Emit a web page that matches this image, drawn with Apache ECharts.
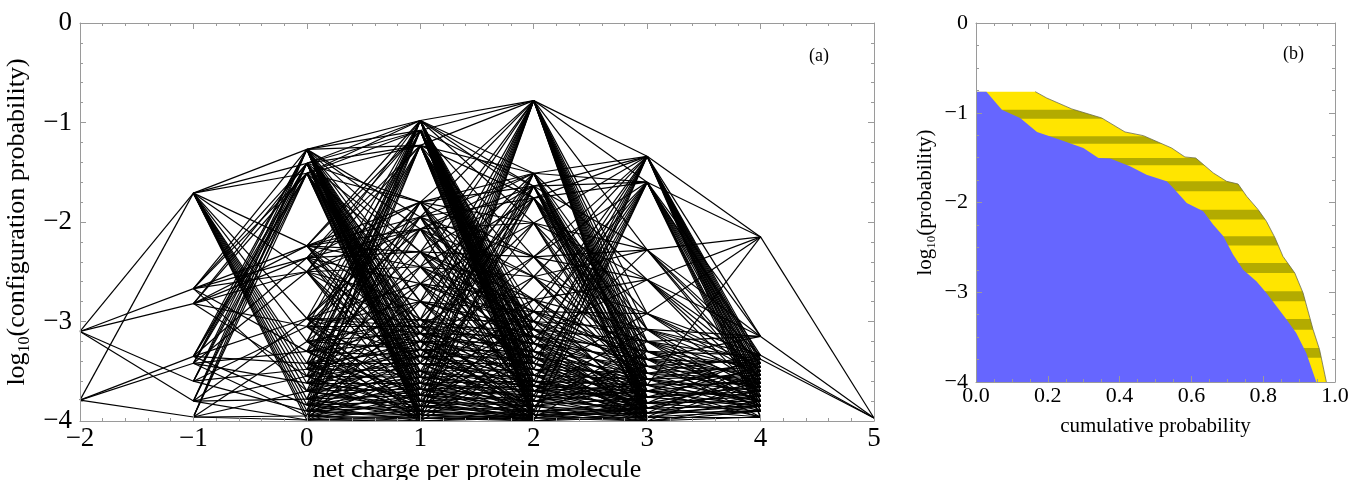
<!DOCTYPE html>
<html><head><meta charset="utf-8">
<script src="https://cdn.jsdelivr.net/npm/echarts@6/dist/echarts.min.js"></script>
<style>html,body{margin:0;padding:0;background:#fff}#c{width:1352px;height:480px}</style>
</head><body><div id="c"></div>
<script>
// ---------- Panel (a): configuration levels per net charge ----------
const charges = [-2, -1, 0, 1, 2, 3, 4, 5];
const levelsQm2 = [-3.10, -3.79];
const levelsQm1 = [-1.71, -2.67, -2.82, -3.35, -3.42, -3.60, -3.80, -3.96];
const levelsQ0 = [-1.27, -1.41, -1.51, -2.24, -2.36, -2.50, -2.97, -3.05, -3.20, -3.30, -3.42, -3.48, -3.55, -3.62, -3.70, -3.78, -3.84, -3.90, -3.95, -3.99];
const levelsQ1 = [-0.98, -1.08, -1.23, -1.80, -1.95, -2.07, -2.30, -2.45, -2.62, -2.80, -2.98, -3.05, -3.12, -3.20, -3.28, -3.35, -3.42, -3.50, -3.56, -3.62, -3.68, -3.74, -3.80, -3.85, -3.90, -3.94, -3.97, -4.00];
const levelsQ2 = [-0.78, -1.51, -1.64, -1.76, -2.01, -2.35, -2.55, -2.78, -2.90, -3.00, -3.08, -3.15, -3.22, -3.30, -3.36, -3.42, -3.48, -3.54, -3.60, -3.65, -3.70, -3.75, -3.80, -3.85, -3.90, -3.94, -3.97, -4.00];
const levelsQ3 = [-1.34, -1.60, -2.28, -2.58, -2.92, -3.08, -3.20, -3.30, -3.38, -3.45, -3.52, -3.58, -3.64, -3.70, -3.76, -3.82, -3.87, -3.92, -3.96, -4.00];
const levelsQ4 = [-2.15, -3.15, -3.34, -3.38, -3.42, -3.46, -3.50, -3.54, -3.58, -3.62, -3.66, -3.70, -3.75, -3.80, -3.85, -3.90, -3.96];
const levelsQ5 = [-3.97];

// transitions: for each configuration at charge q, indices of linked configurations at q+1
const linksQm2 = [[0,1,2,5,6],[0,3,4,7]];
const linksQm1 = [
  [0,1,2,3,5,6,8,10,11,12,13,14,15,16,17,18,19],
  [0,1,2,3,4,5,9,14],
  [1,2,3,4,5,7,12],
  [0,1,2,4,6,10,16],
  [0,1,2,5,9,13,18],
  [0,1,2,7,11,17],
  [0,1,2,6,12,15,19],
  [0,1,2,8,14,18,19]
];
const linksQ0 = [
  [0,1,2,4,5,6,8,9,10,11,12,13,14,15,16,17,18,19,20,21,22,23,24,25,26,27],
  [0,1,2,3,6,9,10,12,13,14,16,18,19,20,22,24,26,27],
  [0,1,2,3,7,11,12,13,15,17,19,21,23,25,27],
  [0,1,3,4,5,6,7,10,14,17,20],
  [1,2,3,5,6,8,11,16,19,22],
  [0,2,4,5,7,9,12,18,21,24],
  [0,3,4,8,10,11,12,15,20,25],
  [1,3,5,9,11,13,17,22,26],
  [0,2,6,10,12,14,19,23,27],
  [1,4,7,11,13,15,21,24],
  [0,2,8,12,14,16,20,23,26],
  [1,3,9,13,15,17,22,25],
  [0,5,10,14,16,18,24,27],
  [2,4,11,15,17,19,21,26],
  [1,6,12,16,18,20,23,24],
  [0,3,13,17,19,21,25,26],
  [2,7,14,18,20,22,24,27],
  [1,5,15,19,21,23,25,26],
  [0,8,16,20,22,24,26,27],
  [2,9,17,21,23,25,26,27]
];
const linksQ1 = [
  [0,1,2,3,4,9,10,11,12,13,14,15,16,17,18,19,20,21,22,23,24,25,26,27],
  [0,2,5,8,10,11,12,13,14,16,18,19,20,22,24,25,26],
  [0,1,3,6,10,11,13,15,17,19,21,23,25,27],
  [0,1,2,4,5,9,12,16,19,22],
  [0,1,3,5,6,10,12,20,24],
  [1,2,4,6,7,11,14,24,26],
  [0,2,5,7,8,10,15,18,22],
  [0,3,6,8,9,13,17,21],
  [1,4,7,9,10,15,19,25],
  [0,2,8,10,11,17,20,23],
  [0,3,9,11,12,14,19,26],
  [1,5,10,12,13,16,20,24],
  [0,4,11,13,14,18,22,27],
  [2,6,12,14,15,19,24,25],
  [0,3,13,15,16,20,23,27],
  [1,7,14,16,17,21,26],
  [0,5,15,17,18,23,25],
  [2,8,16,18,19,22,25,27],
  [0,4,17,19,20,24,26],
  [1,9,18,20,21,23,27],
  [0,6,19,21,22,24,26],
  [3,10,20,22,23,25,27],
  [0,7,21,23,24,26,27],
  [2,11,22,24,25,27],
  [0,8,23,25,26,27],
  [1,12,24,26,27],
  [0,13,25,26,27],
  [2,14,25,26,27]
];
const linksQ2 = [
  [0,1,2,4,5,6,7,8,9,10,11,12,13,14,15,16,17,18,19],
  [0,1,3,5,7,9,10,11,13,15,17,19],
  [0,1,2,6,8,10,12,14,16,18],
  [0,1,4,5,7,9,12,15,18],
  [0,2,3,6,11,14,16],
  [0,1,2,3,7,10,13],
  [0,2,4,8,12,14],
  [1,3,5,9,11,17],
  [0,4,6,8,10,15],
  [1,5,7,9,11,19],
  [0,6,8,10,12,16],
  [3,7,9,11,13,18],
  [1,8,10,12,14,17],
  [0,9,11,13,15,17],
  [2,10,12,14,16,19],
  [1,11,13,15,17,19],
  [0,12,14,16,18,10],
  [4,13,15,17,19,11],
  [1,14,16,18,15,12],
  [0,15,17,19,13,9],
  [5,16,18,14,12,10],
  [1,17,19,15,13],
  [0,18,16,13,11],
  [6,19,17,14,12],
  [1,18,15,19,16],
  [0,19,14,16,17],
  [7,16,19,18,15],
  [1,17,18,19,16]
];
const linksQ3 = [
  [0,1,3,4,5,6,7,8,9,10,11,12,13,14,15,16],
  [0,1,2,3,5,7,9,11,13,14,15,16],
  [0,1,2,4,8,10],
  [0,1,3,6,9,12],
  [0,2,5,7,10],
  [1,2,4,7,11,14],
  [1,3,6,9,12,15],
  [2,5,8,11,13],
  [1,4,7,10,13,16],
  [3,6,9,12,14],
  [2,5,8,10,14],
  [4,7,11,13,15],
  [0,6,9,13,16],
  [3,8,12,14,16],
  [5,10,11,14],
  [2,9,12,13,15],
  [7,11,14,16],
  [4,12,14,15],
  [6,13,15,16],
  [8,14,15,16]
];
const linksQ4 = [[0],[0],[0],[0]];

// ---------- Panel (b): cumulative probability boundaries ----------
const blueEdgeX = [0, 0.029, 0.072, 0.123, 0.170, 0.234, 0.299, 0.341, 0.374, 0.429, 0.475, 0.531, 0.545, 0.587, 0.633, 0.661, 0.689, 0.716, 0.744, 0.781, 0.809, 0.837, 0.865, 0.892, 0.920, 0.948];
const blueEdgeY = [-0.765, -0.765, -0.966, -1.058, -1.214, -1.300, -1.393, -1.504, -1.510, -1.597, -1.690, -1.764, -1.820, -2.006, -2.098, -2.247, -2.377, -2.580, -2.750, -2.878, -3.008, -3.157, -3.305, -3.454, -3.677, -4.0];
const yellowEdgeX = [0, 0.165, 0.197, 0.267, 0.350, 0.415, 0.466, 0.545, 0.582, 0.612, 0.661, 0.698, 0.730, 0.754, 0.786, 0.809, 0.833, 0.855, 0.888, 0.911, 0.939, 0.957, 0.976];
const yellowEdgeY = [-0.765, -0.765, -0.836, -0.958, -1.058, -1.214, -1.255, -1.393, -1.493, -1.504, -1.671, -1.764, -1.794, -1.931, -2.080, -2.210, -2.395, -2.600, -2.786, -3.008, -3.417, -3.640, -4.0];
const stripeTop = [-0.966, -1.263, -1.504, -1.764, -2.080, -2.377, -2.674, -2.990, -3.298, -3.620];
const stripeBottom = [-1.066, -1.345, -1.586, -1.876, -2.190, -2.480, -2.786, -3.100, -3.417, -3.730];

// ---------- build ----------
const FONT = '"Liberation Serif","DejaVu Serif",serif';
const columns = [levelsQm2, levelsQm1, levelsQ0, levelsQ1, levelsQ2, levelsQ3, levelsQ4, levelsQ5];
const links = [linksQm2, linksQm1, linksQ0, linksQ1, linksQ2, linksQ3, linksQ4];
const edgeData = [];
links.forEach((adj, g) => adj.forEach((targets, i) => targets.forEach(j => {
  edgeData.push({coords: [[charges[g], columns[g][i]], [charges[g + 1], columns[g + 1][j]]]});
})));

const minus = v => v < 0 ? '\u2212' + Math.abs(v) : String(v);
const minusFixed = v => v < 0 ? '\u2212' + Math.abs(v).toFixed(1) : v.toFixed(1);
const frameColor = '#9a9a9a';

function axisBase(extra) {
  return Object.assign({
    type: 'value', z: 10,
    axisLine: {show: true, onZero: false, lineStyle: {color: frameColor, width: 1}},
    axisTick: {show: true, inside: true, length: 6, lineStyle: {color: frameColor}},
    minorTick: {show: true, length: 3, lineStyle: {color: frameColor}},
    splitLine: {show: false},
    axisLabel: {show: false}
  }, extra);
}

const bigLabel = {fontFamily: FONT, fontSize: 27, color: '#000'};
const smallLabel = {fontFamily: FONT, fontSize: 22, color: '#000'};

const option = {
  animation: false,
  backgroundColor: '#fff',
  grid: [
    {left: 80, top: 23, width: 794, height: 398, containLabel: false, outerBoundsMode: 'none'},
    {left: 976, top: 23, width: 359, height: 359, containLabel: false, outerBoundsMode: 'none'}
  ],
  xAxis: [
    axisBase({gridIndex: 0, position: 'bottom', min: -2, max: 5, interval: 1,
      minorTick: {show: true, splitNumber: 5, length: 3, lineStyle: {color: frameColor}},
      axisLabel: Object.assign({show: true, margin: 4, formatter: minus}, bigLabel),
      name: 'net charge per protein molecule', nameLocation: 'middle', nameGap: 32,
      nameTextStyle: {fontFamily: FONT, fontSize: 26, color: '#000'}}),
    axisBase({gridIndex: 0, position: 'top', min: -2, max: 5, interval: 1,
      minorTick: {show: true, splitNumber: 5, length: 3, lineStyle: {color: frameColor}}}),
    axisBase({gridIndex: 1, position: 'bottom', min: 0, max: 1, interval: 0.2,
      minorTick: {show: true, splitNumber: 4, length: 3, lineStyle: {color: frameColor}},
      axisLabel: Object.assign({show: true, margin: 3, formatter: minusFixed}, smallLabel),
      name: 'cumulative probability', nameLocation: 'middle', nameGap: 34,
      nameTextStyle: {fontFamily: FONT, fontSize: 21, color: '#000'}}),
    axisBase({gridIndex: 1, position: 'top', min: 0, max: 1, interval: 0.2,
      minorTick: {show: true, splitNumber: 4, length: 3, lineStyle: {color: frameColor}}})
  ],
  yAxis: [
    axisBase({gridIndex: 0, position: 'left', min: -4, max: 0, interval: 1,
      minorTick: {show: true, splitNumber: 5, length: 3, lineStyle: {color: frameColor}},
      axisLabel: Object.assign({show: true, margin: 8, formatter: minus}, bigLabel),
      name: '{n|log}{s|10}{n|(configuration probability)}', nameLocation: 'middle', nameGap: 42,
      nameTextStyle: {fontFamily: FONT, fontSize: 26, color: '#000',
        rich: {n: {fontFamily: FONT, fontSize: 26, color: '#000', lineHeight: 30},
               s: {fontFamily: FONT, fontSize: 16, color: '#000', lineHeight: 30, verticalAlign: 'bottom', padding: [10, 0, 0, 0]}}}}),
    axisBase({gridIndex: 0, position: 'right', min: -4, max: 0, interval: 1,
      minorTick: {show: true, splitNumber: 5, length: 3, lineStyle: {color: frameColor}}}),
    axisBase({gridIndex: 1, position: 'left', min: -4, max: 0, interval: 1,
      minorTick: {show: true, splitNumber: 4, length: 3, lineStyle: {color: frameColor}},
      axisLabel: Object.assign({show: true, margin: 8, formatter: minus}, smallLabel),
      name: '{n|log}{s|10}{n|(probability)}', nameLocation: 'middle', nameGap: 38,
      nameTextStyle: {fontFamily: FONT, fontSize: 21, color: '#000',
        rich: {n: {fontFamily: FONT, fontSize: 21, color: '#000', lineHeight: 26},
               s: {fontFamily: FONT, fontSize: 13, color: '#000', lineHeight: 26, verticalAlign: 'bottom', padding: [8, 0, 0, 0]}}}}),
    axisBase({gridIndex: 1, position: 'right', min: -4, max: 0, interval: 1,
      minorTick: {show: true, splitNumber: 4, length: 3, lineStyle: {color: frameColor}}})
  ],
  graphic: [
    {type: 'text', left: 809, top: 47, style: {text: '(a)', font: '18px ' + FONT, fill: '#000'}},
    {type: 'text', left: 1283, top: 45, style: {text: '(b)', font: '18px ' + FONT, fill: '#000'}}
  ],
  series: [
    {
      type: 'lines', coordinateSystem: 'cartesian2d', xAxisIndex: 0, yAxisIndex: 0,
      polyline: false, silent: true, z: 2,
      lineStyle: {color: '#000', width: 1.2, opacity: 1, curveness: 0},
      data: edgeData
    },
    {
      type: 'custom', coordinateSystem: 'cartesian2d', xAxisIndex: 2, yAxisIndex: 2,
      silent: true, clip: false, z: 2,
      data: [[0, 0]],
      renderItem: function (params, api) {
        const yellowPts = yellowEdgeX.map((x, i) => api.coord([x, yellowEdgeY[i]]));
        const bluePts = blueEdgeX.map((x, i) => api.coord([x, blueEdgeY[i]]));
        const children = [];
        children.push({type: 'polygon', shape: {points: [api.coord([0, -4])].concat(yellowPts)},
          style: {fill: '#FFE500', stroke: null}});
        stripeTop.forEach((t, k) => {
          const b = stripeBottom[k];
          children.push({type: 'polygon', shape: {points: [api.coord([0, t]), api.coord([1, t]), api.coord([1, b]), api.coord([0, b])]},
            style: {fill: '#B3AB00', stroke: null}});
        });
        children.push({type: 'polygon', shape: {points: yellowPts.slice(1).concat([api.coord([1, -4]), api.coord([1, -0.765])])},
          style: {fill: '#fff', stroke: null}});
        children.push({type: 'polygon', shape: {points: [api.coord([0, -4])].concat(bluePts)},
          style: {fill: '#6666FF', stroke: null}});
        children.push({type: 'polyline', shape: {points: yellowPts.slice(1)},
          style: {fill: null, stroke: '#6b6b40', lineWidth: 0.8}});
        return {type: 'group', children: children};
      }
    }
  ]
};
const chart = echarts.init(document.getElementById('c'), null, {renderer: 'canvas'});
chart.setOption(option);
</script></body></html>
